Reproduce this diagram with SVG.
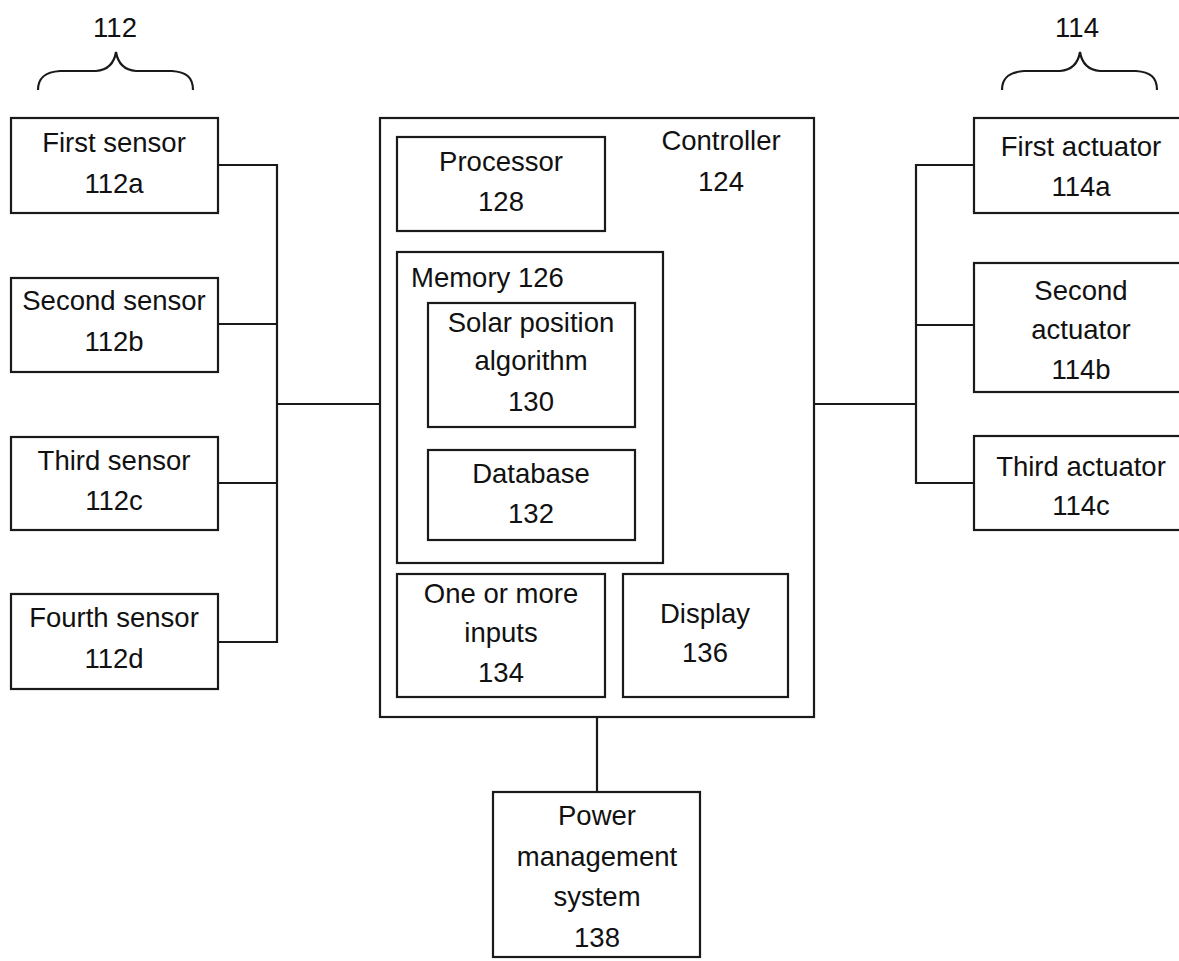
<svg xmlns="http://www.w3.org/2000/svg" width="1179" height="961" viewBox="0 0 1179 961">
<style>
rect.box{fill:none;stroke:#1a1a1a;stroke-width:2.2}
.c{fill:none;stroke:#1a1a1a;stroke-width:2.2}
text{font-family:"Liberation Sans",Arial,sans-serif;font-size:27.5px;fill:#111;text-anchor:middle}
text.l{text-anchor:start}
</style>
<rect width="1179" height="961" fill="#fff"/>
<g id="brace112">
<text x="115" y="37">112</text>
<path class="c" d="M38,90 C38,77 46,72 60,71 L96,71 C108,70 114,64 116,52 C118,64 124,70 136,71 L172,71 C186,72 193,77 193,90"/>
</g>
<g id="brace114">
<text x="1077" y="37">114</text>
<path class="c" d="M1002,90 C1002,77 1010,72 1024,71 L1060,71 C1072,70 1078,64 1080,52 C1082,64 1088,70 1100,71 L1136,71 C1150,72 1157,77 1157,90"/>
</g>
<g id="connectors">
<path class="c" d="M218,165 H277 V642 H218 M218,324 H277 M218,483 H277 M277,404 H380"/>
<path class="c" d="M974,165 H916 V483 H974 M916,325 H974 M814,404 H916"/>
<path class="c" d="M597,717 V792"/>
</g>
<g id="sensor112a"><rect class="box" x="11" y="118" width="207" height="95"/><text x="114" y="152">First sensor</text><text x="114" y="193">112a</text></g>
<g id="sensor112b"><rect class="box" x="11" y="278" width="207" height="94"/><text x="114" y="310">Second sensor</text><text x="114" y="351">112b</text></g>
<g id="sensor112c"><rect class="box" x="11" y="437" width="207" height="93"/><text x="114" y="470">Third sensor</text><text x="114" y="510">112c</text></g>
<g id="sensor112d"><rect class="box" x="11" y="594" width="207" height="95"/><text x="114" y="627">Fourth sensor</text><text x="114" y="668">112d</text></g>
<g id="controller124"><rect class="box" x="380" y="118" width="434" height="599"/><text x="721" y="150">Controller</text><text x="721" y="191">124</text></g>
<g id="processor128"><rect class="box" x="397" y="137" width="208" height="94"/><text x="501" y="171">Processor</text><text x="501" y="211">128</text></g>
<g id="memory126"><rect class="box" x="397" y="252" width="266" height="311"/><text class="l" x="411" y="287">Memory 126</text></g>
<g id="solar130"><rect class="box" x="428" y="303" width="207" height="124"/><text x="531" y="332">Solar position</text><text x="531" y="370">algorithm</text><text x="531" y="411">130</text></g>
<g id="database132"><rect class="box" x="428" y="450" width="207" height="90"/><text x="531" y="483">Database</text><text x="531" y="523">132</text></g>
<g id="inputs134"><rect class="box" x="397" y="574" width="208" height="123"/><text x="501" y="603">One or more</text><text x="501" y="642">inputs</text><text x="501" y="682">134</text></g>
<g id="display136"><rect class="box" x="623" y="574" width="165" height="123"/><text x="705" y="623">Display</text><text x="705" y="662">136</text></g>
<g id="power138"><rect class="box" x="493" y="792" width="207" height="165"/><text x="597" y="825">Power</text><text x="597" y="866">management</text><text x="597" y="906">system</text><text x="597" y="947">138</text></g>
<g id="actuator114a"><rect class="box" x="974" y="118" width="213" height="95"/><text x="1081" y="156">First actuator</text><text x="1081" y="196">114a</text></g>
<g id="actuator114b"><rect class="box" x="974" y="263" width="213" height="129"/><text x="1081" y="300">Second</text><text x="1081" y="339">actuator</text><text x="1081" y="379">114b</text></g>
<g id="actuator114c"><rect class="box" x="974" y="436" width="213" height="94"/><text x="1081" y="476">Third actuator</text><text x="1081" y="515">114c</text></g>
</svg>
